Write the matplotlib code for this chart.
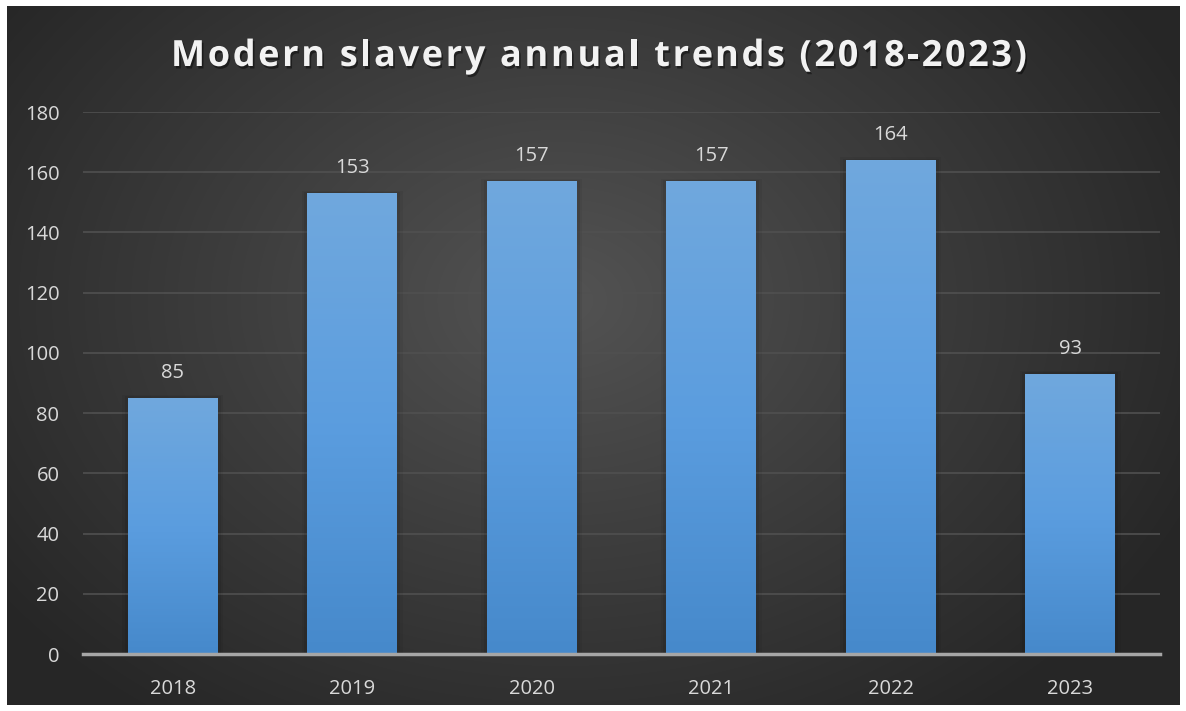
import numpy as np
import matplotlib
matplotlib.use("Agg")
from matplotlib import pyplot as plt
from matplotlib.colors import LinearSegmentedColormap
from matplotlib.patches import Rectangle
import matplotlib.patheffects as pe

years = ['2018', '2019', '2020', '2021', '2022', '2023']
counts = [85, 153, 157, 157, 164, 93]
yticks = [0, 20, 40, 60, 80, 100, 120, 140, 160, 180]
title = 'Modern slavery annual trends (2018-2023)'

plt.rcParams['font.family'] = ['Open Sans', 'DejaVu Sans']

W, H = 1186, 711
fig = plt.figure(figsize=(W / 100, H / 100), dpi=100, facecolor='white')

# dark radial background panel
bg = fig.add_axes([0, 0, 1, 1], zorder=0)
bg.set_xlim(0, W)
bg.set_ylim(H, 0)
bg.axis('off')
yy, xx = np.mgrid[0:H, 0:W]
r = np.sqrt(((xx - 560) / 700.0) ** 2 + ((yy - 300) / 520.0) ** 2)
r = np.clip(r, 0, 1)
bg_cmap = LinearSegmentedColormap.from_list('bg', ['#535353', '#3c3c3c', '#262626'])
img = bg.imshow(r, cmap=bg_cmap, extent=(0, W, H, 0), aspect='auto', vmin=0, vmax=1)
clip = Rectangle((7, 6), 1173, 699, transform=bg.transData, facecolor='none')
bg.add_patch(clip)
img.set_clip_path(clip)

ax = fig.add_axes([83 / W, 57 / H, 1077 / W, 542 / H], zorder=1)
ax.patch.set_alpha(0)
x = np.arange(len(years))
bars = ax.bar(x, counts, width=0.5, color='none', zorder=3)

bar_cmap = LinearSegmentedColormap.from_list('bar', ['#4689cb', '#5b9ddf', '#70a8dd'])
grad = np.linspace(0, 1, 256).reshape(-1, 1)
for b in bars:
    x0, w, h = b.get_x(), b.get_width(), b.get_height()
    # soft shadow
    for k, a in [(0.03, 0.05), (0.018, 0.07)]:
        ax.add_patch(Rectangle((x0 - k, 0), w + 2 * k, h + k * 30, facecolor='black',
                               alpha=a, edgecolor='none', zorder=2))
    im = ax.imshow(grad, cmap=bar_cmap, origin='lower', extent=(x0, x0 + w, 0, h),
                   aspect='auto', zorder=3)
    im.set_clip_path(b)
    ax.text(x0 + w / 2, h + 5, str(h), ha='center', va='bottom',
            color='#d9d9d9', fontsize=14.5, zorder=4)

ax.set_xlim(-0.5, len(years) - 0.5)
ax.set_ylim(0, 180)
ax.set_yticks(yticks)
ax.set_xticks(x)
ax.set_xticklabels(years)
ax.tick_params(colors='#d9d9d9', labelsize=14.5, length=0)
ax.tick_params(axis='y', pad=17)
ax.tick_params(axis='x', pad=18)
ax.grid(axis='y', color='#505050', linewidth=1.2, zorder=1)
ax.set_axisbelow(True)
for s in ['top', 'right', 'left']:
    ax.spines[s].set_visible(False)
ax.spines['bottom'].set_color('#a6a6a6')
ax.spines['bottom'].set_linewidth(2.5)
ax.spines['bottom'].set_zorder(5)

# title with letter spacing, drawn char by char
tprops = dict(color='#f2f2f2', fontsize=26, fontweight='bold', va='center', ha='left',
              path_effects=[pe.withSimplePatchShadow(offset=(1.2, -1.8), shadow_rgbFace='black', alpha=0.45)])
renderer = fig.canvas.get_renderer()


def text_w(s):
    t = fig.text(0, 0, s, fontsize=tprops['fontsize'], fontweight='bold')
    wd = t.get_window_extent(renderer).width
    t.remove()
    return wd


base = text_w('||')
full = text_w('|' + title + '|') - base
left, right = 171, 1027
spacing = (right - left - full) / (len(title) - 1)
ty = 1 - 57 / H
for i, ch in enumerate(title):
    px = left + (text_w('|' + title[:i] + '|') - base) + i * spacing
    if ch != ' ':
        fig.text(px / W, ty, ch, **tprops)

fig.savefig('out.png', dpi=100, facecolor='white')
